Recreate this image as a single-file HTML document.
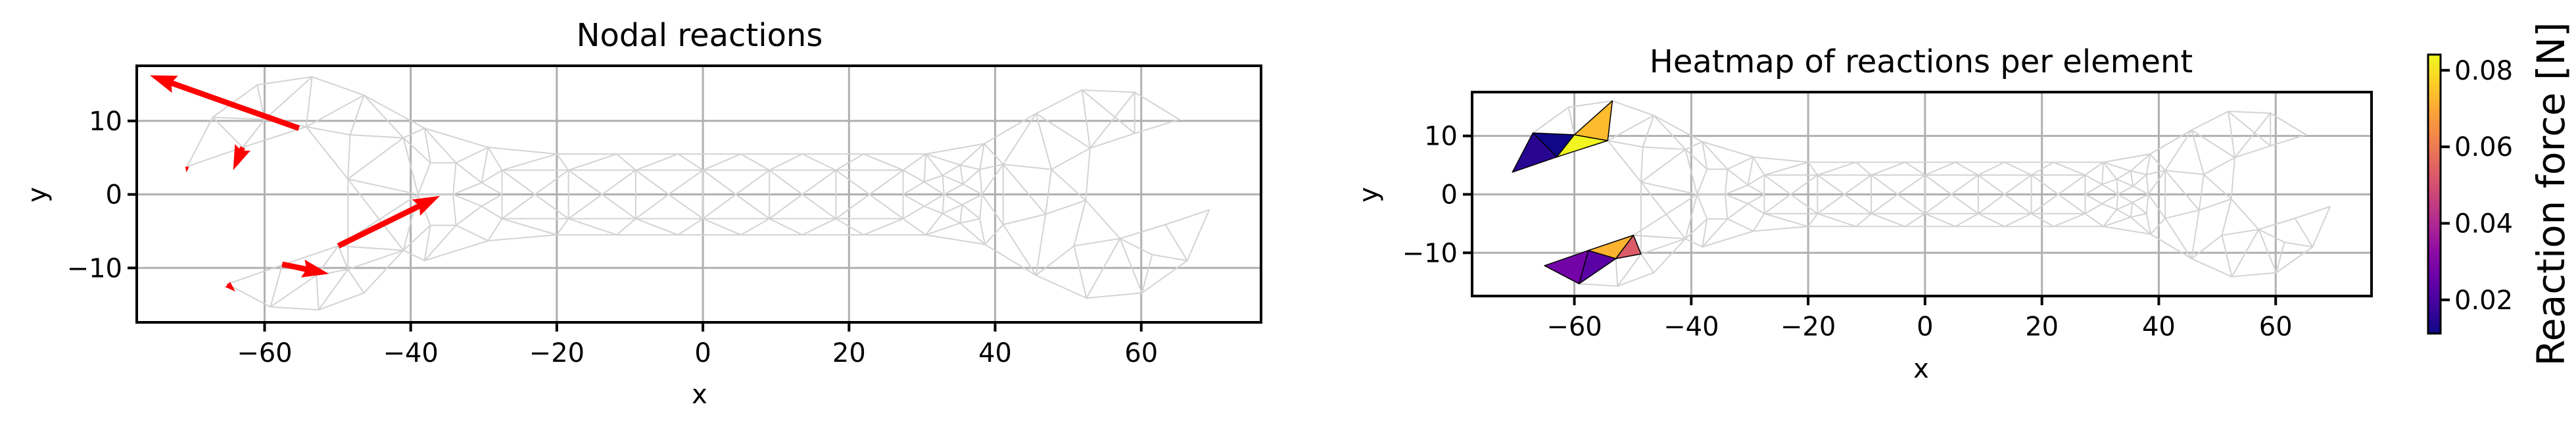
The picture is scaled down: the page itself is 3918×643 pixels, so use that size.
<!DOCTYPE html>
<html><head><meta charset="utf-8"><title>Nodal reactions</title>
<style>
html,body{margin:0;padding:0;background:#fff;}
svg{display:block;font-family:"DejaVu Sans","Liberation Sans",sans-serif;}
</style></head>
<body>
<svg id="fig" width="3918" height="643" viewBox="0 0 3918 643" xmlns="http://www.w3.org/2000/svg">
<defs>
<linearGradient id="plasma" x1="0" y1="1" x2="0" y2="0">
<stop offset="0" stop-color="#0d0887"/><stop offset="0.1" stop-color="#41049d"/><stop offset="0.2" stop-color="#6a00a8"/><stop offset="0.3" stop-color="#8f0da4"/><stop offset="0.4" stop-color="#b12a90"/><stop offset="0.5" stop-color="#cc4778"/><stop offset="0.6" stop-color="#e16462"/><stop offset="0.7" stop-color="#f2844b"/><stop offset="0.8" stop-color="#fca636"/><stop offset="0.9" stop-color="#fcce25"/><stop offset="1" stop-color="#f0f921"/>
</linearGradient>
</defs>
<text x="1064" y="70" font-size="48" text-anchor="middle">Nodal reactions</text>
<text x="2922" y="110" font-size="48" text-anchor="middle">Heatmap of reactions per element</text>
<text x="1064" y="613" font-size="40" text-anchor="middle">x</text>
<text x="2922" y="574" font-size="40" text-anchor="middle">x</text>
<text x="70" y="296" font-size="40" text-anchor="middle" transform="rotate(-90 70 296)" dy="0">y</text>
<text x="2095" y="296" font-size="40" text-anchor="middle" transform="rotate(-90 2095 296)">y</text>
<rect x="3693" y="83" width="19" height="424" fill="url(#plasma)" stroke="#000" stroke-width="3"/>
<text x="3900" y="295" font-size="58" text-anchor="middle" textLength="523" lengthAdjust="spacingAndGlyphs" transform="rotate(-90 3900 295)">Reaction force [N]</text>
<g id="root"></g>
</svg>
<script>
// ---- data ----
const nodeNames = ["A","B","C","D","E","F","G","H","I","J","K","L","M","N","O","P","Q","S",
 "a","b","c","d","e","f","g","h","i","j","k","l","m","o",
 "T0","T1","T2","T3","T4","T5","T6","U0","U1","U2","U3","U4","U5","U6",
 "Zl","Z0","Z1","Z2","Z3","Z4","Z5","Zr","V0","V1","V2","V3","V4","V5","V6",
 "W0","W1","W2","W3","W4","W5","W6",
 "r2","r3","r4","r5","r6","r7","r8","r9","r10","r11","r12","r13","r14","r15","r16","r17","r18","r19","r20",
 "r22","r23","r24","r25","r26","r27","r28","r29","r30","r31","r32","r33","r34","r35","r36"];
const nodeX = [-61,-53.5,-46.4,-67.1,-60,-54.3,-48.3,-41,-63,-70.6,-48.6,-38.1,-39,-37.3,-33.8,-34.2,-29.4,-30.3,
 -65.1,-59.2,-52.6,-46.4,-57.6,-52.9,-48.6,-49.9,-41,-38.1,-37.3,-33.8,-29.4,-30.3,
 -20,-11.8,-3.4,5.2,13.6,22,30.5,-27.5,-18.4,-9.2,0,9.1,18.2,27.4,
 -27.5,-23,-13.8,-4.7,4.5,13.6,22.8,27.4,-27.5,-18.4,-9.2,0,9.1,18.2,27.4,
 -20,-11.8,-3.4,5.2,13.6,22,30.5,
 38.5,45.6,51.9,59.1,65.2,59.1,53,47.7,41.1,37.9,35.2,32.8,30.3,33,35.6,38.2,35.5,32.8,30.3,
 35.2,37.9,38.6,41.1,52.4,46.9,45.6,50.8,52.5,57.1,60.1,61.5,63.3,66.3,69.3];
const nodeY = [14.9,16,13.5,10.5,10.2,9.2,8.1,7.7,6.4,3.8,2.1,9,0,4.3,4.3,0,6.4,1.6,
 -12.2,-15.3,-15.7,-13.4,-9.6,-11,-10.2,-7,-7.6,-9,-4.2,-4.2,-6.3,-1.6,
 5.5,5.5,5.5,5.5,5.5,5.5,5.5,3.3,3.3,3.3,3.3,3.3,3.3,3.3,
 0,0,0,0,0,0,0,0,-3.3,-3.3,-3.3,-3.3,-3.3,-3.3,-3.3,
 -5.5,-5.5,-5.5,-5.5,-5.5,-5.5,-5.5,
 6.9,11,14.2,13.9,10.2,8.3,6.3,3.4,4.1,3.4,4,2.6,1.7,0,1.4,0,-1.4,-2.6,-1.6,
 -3.9,-3.3,-6.8,-4.1,-0.8,-2.7,-11,-7,-14.1,-6,-13.4,-8.2,-4.1,-9,-2.1];
const edgeList = ("A-B A-D A-E B-E B-F B-C D-E D-I D-J E-I E-F I-J I-F F-C F-G F-K C-G C-H C-L G-H G-K H-K K-M H-L K-i K-g "+
 "a-b a-e b-e b-f b-c c-f c-d c-g e-f e-h f-h f-g g-h g-d d-i g-i h-i h-M i-j "+
 "L-Q O-Q O-S N-O L-N L-O H-N N-M M-P O-P P-S P-o l-P l-o k-l k-M M-i i-k j-k j-l l-m j-m H-M Q-S Q-U0 S-U0 S-Zl o-Zl o-V0 m-V0 m-W0 Q-T0 "+
 "T0-T1 T1-T2 T2-T3 T3-T4 T4-T5 T5-T6 U0-U1 U1-U2 U2-U3 U3-U4 U4-U5 U5-U6 V0-V1 V1-V2 V2-V3 V3-V4 V4-V5 V5-V6 W0-W1 W1-W2 W2-W3 W3-W4 W4-W5 W5-W6 "+
 "T0-U0 T1-U1 T2-U2 T3-U3 T4-U4 T5-U5 T6-U6 T0-U1 T1-U2 T2-U3 T3-U4 T4-U5 T5-U6 "+
 "W0-V0 W1-V1 W2-V2 W3-V3 W4-V4 W5-V5 W6-V6 W0-V1 W1-V2 W2-V3 W3-V4 W4-V5 W5-V6 "+
 "U0-V0 U1-V1 U2-V2 U3-V3 U4-V4 U5-V5 U6-V6 "+
 "Z0-U0 Z0-U1 Z0-V0 Z0-V1 Z1-U1 Z1-U2 Z1-V1 Z1-V2 Z2-U2 Z2-U3 Z2-V2 Z2-V3 Z3-U3 Z3-U4 Z3-V3 Z3-V4 Z4-U4 Z4-U5 Z4-V4 Z4-V5 Z5-U5 Z5-U6 Z5-V5 Z5-V6 "+
 "U6-r14 Zr-r14 Zr-r20 V6-r20 T6-r2 r2-r3 r3-r4 r4-r5 r5-r6 r6-r7 r7-r8 r8-r9 r9-r10 r10-r3 r3-r9 r3-r8 r4-r8 r4-r7 r5-r7 r5-r8 "+
 "r8-r26 r9-r26 r10-r27 r10-r25 r9-r27 r26-r27 r26-r29 r26-r31 r27-r25 r27-r28 r25-r28 r24-r28 r28-r29 r28-r30 r29-r30 r29-r31 "+
 "r31-r30 r31-r32 r31-r33 r31-r34 r33-r32 r33-r35 r34-r35 r34-r36 r36-r35 r35-r32 r32-r30 r2-r10 r2-r11 r2-r12 T6-r12 T6-r13 T6-r14 "+
 "r11-r10 r11-r12 r11-r17 r11-r16 r10-r17 r12-r16 r12-r13 r13-r16 r13-r14 r13-r15 r14-r15 r16-r15 r16-r17 r15-r18 r15-r19 r17-r18 "+
 "r17-r25 r17-r23 r18-r23 r18-r22 r18-r19 r19-r22 r19-r20 r19-W6 r20-r15 r22-W6 r22-r23 r22-r24 r23-r24 r24-r25 W6-r24").split(" ");
// quiver arrows (tail x,y and tip x,y in data units)
const arrowTailX = [-55.3,-63.0,-70.6,-49.9,-57.6,-65.1];
const arrowTailY = [9.0,6.4,3.8,-7.0,-9.5,-12.2];
const arrowTipX = [-75.7,-64.3,-70.7,-36.0,-51.2,-64.0];
const arrowTipY = [16.2,3.3,3.0,-0.2,-10.8,-13.2];
// heatmap elements (triangles by node name) and reaction values
const heatTriangles = [["D","E","I"],["D","J","I"],["E","F","I"],["E","B","F"],["a","b","e"],["e","b","f"],["e","f","h"],["f","g","h"]];
const heatValues = [0.0115,0.0150,0.0835,0.0735,0.0275,0.0230,0.0720,0.0530];
const cbTicks = [0.02,0.04,0.06,0.08];
const xTicks = [-60,-40,-20,0,20,40,60];
const yTicks = [-10,0,10];
const cbMin = 0.0112, cbMax = 0.0841;

// ---- drawing ----
const NS = "http://www.w3.org/2000/svg";
const root = document.getElementById("root");
function mk(tag, attrs, parent){ const e=document.createElementNS(NS,tag); for(const k in attrs) e.setAttribute(k,attrs[k]); (parent||root).appendChild(e); return e; }
const nodeIdx = {}; nodeNames.forEach((n,i)=>nodeIdx[n]=i);
const xlim=[-77.5,76.4], ylim=[-17.4,17.5];
function makeAxis(x0,x1,y0,y1){ return {x0,x1,y0,y1, sx:v=>x0+(v-xlim[0])/(xlim[1]-xlim[0])*(x1-x0), sy:v=>y1-(v-ylim[0])/(ylim[1]-ylim[0])*(y1-y0)}; }
const axL = makeAxis(208,1918,100,490);
const axR = makeAxis(2239,3607,140,450);
const stops=[[0,"#0d0887"],[0.1,"#41049d"],[0.2,"#6a00a8"],[0.3,"#8f0da4"],[0.4,"#b12a90"],[0.5,"#cc4778"],[0.6,"#e16462"],[0.7,"#f2844b"],[0.8,"#fca636"],[0.9,"#fcce25"],[1,"#f0f921"]];
function hex(h){return [1,3,5].map(i=>parseInt(h.substr(i,2),16));}
function plasma(t){ t=Math.max(0,Math.min(1,t)); for(let i=0;i<stops.length-1;i++){ if(t<=stops[i+1][0]){ const f=(t-stops[i][0])/(stops[i+1][0]-stops[i][0]); const a=hex(stops[i][1]), b=hex(stops[i+1][1]); return "rgb("+a.map((v,k)=>Math.round(v+(b[k]-v)*f)).join(",")+")"; } } return stops[10][1]; }

function drawAxis(ax, prefix){
  const g = mk("g",{});
  
  
  xTicks.forEach(v=>{ const l=mk("line",{x1:ax.sx(v),x2:ax.sx(v),y1:ax.y0,y2:ax.y1,stroke:"#b0b0b0","stroke-width":3},g);
    
    
    const t=mk("line",{x1:ax.sx(v),x2:ax.sx(v),y1:ax.y1,y2:ax.y1+14,stroke:"#000","stroke-width":4},g);
    
    
    const tx=mk("text",{x:ax.sx(v),y:ax.y1+60,"font-size":40,"text-anchor":"middle"},g); tx.textContent=(v<0?"\u2212":"")+Math.abs(v);
    
    
  });
  yTicks.forEach(v=>{ const l=mk("line",{x1:ax.x0,x2:ax.x1,y1:ax.sy(v),y2:ax.sy(v),stroke:"#b0b0b0","stroke-width":3},g);
    
    
    const t=mk("line",{x1:ax.x0-14,x2:ax.x0,y1:ax.sy(v),y2:ax.sy(v),stroke:"#000","stroke-width":4},g);
    
    
    const tx=mk("text",{x:ax.x0-22,y:ax.sy(v)+14,"font-size":40,"text-anchor":"end"},g); tx.textContent=(v<0?"\u2212":"")+Math.abs(v);
    
    
  });
  const mesh = mk("g",{stroke:"#d3d3d3","stroke-width":2,"stroke-linecap":"round"},g);
  
  
  edgeList.forEach(e=>{ const [p,q]=e.split("-"); const i=nodeIdx[p], j=nodeIdx[q]; if(i===undefined||j===undefined) return;
    const l=mk("line",{x1:ax.sx(nodeX[i]),y1:ax.sy(nodeY[i]),x2:ax.sx(nodeX[j]),y2:ax.sy(nodeY[j])},mesh);
    
    
  });
  return g;
}
function frame(ax, prefix){
  const r=mk("rect",{x:ax.x0,y:ax.y0,width:ax.x1-ax.x0,height:ax.y1-ax.y0,fill:"none",stroke:"#000","stroke-width":4});
  
  
}
drawAxis(axL,"left");
// arrows
const W=8.6;
arrowTailX.forEach((tx,k)=>{
  const x0=axL.sx(tx), y0=axL.sy(arrowTailY[k]), x1=axL.sx(arrowTipX[k]), y1=axL.sy(arrowTipY[k]);
  const dx=x1-x0, dy=y1-y0, L=Math.hypot(dx,dy); if(L<0.1) return;
  const ux=dx/L, uy=dy/L, nx=-uy, ny=ux;
  const hlFull=4.7*W;
  const s=Math.min(1, L/hlFull);
  const w=W*s, hl=hlFull*s, ha=hl*0.9, hw=1.6*W*s;
  const pts=[[0,w/2],[L-ha,w/2],[L-hl,hw],[L,0],[L-hl,-hw],[L-ha,-w/2],[0,-w/2]].map(([a,b])=>(x0+ux*a+nx*b)+","+(y0+uy*a+ny*b)).join(" ");
  const p=mk("polygon",{points:pts,fill:"#ff0000"});
  
  
});
frame(axL,"left");
drawAxis(axR,"right");
heatTriangles.forEach((tri,k)=>{
  const pts=tri.map(n=>axR.sx(nodeX[nodeIdx[n]])+","+axR.sy(nodeY[nodeIdx[n]])).join(" ");
  const p=mk("polygon",{points:pts,fill:plasma((heatValues[k]-cbMin)/(cbMax-cbMin)),stroke:"#000","stroke-width":1.5,"stroke-linejoin":"round"});
  
  
});
frame(axR,"right");
// colorbar ticks
cbTicks.forEach(v=>{
  const y=507-(v-cbMin)/(cbMax-cbMin)*424;
  const t=mk("line",{x1:3712,x2:3726,y1:y,y2:y,stroke:"#000","stroke-width":4});
  
  
  const tx=mk("text",{x:3733,y:y+14,"font-size":40});
  tx.textContent=v.toFixed(2);
  
  
});
</script>
</body></html>
